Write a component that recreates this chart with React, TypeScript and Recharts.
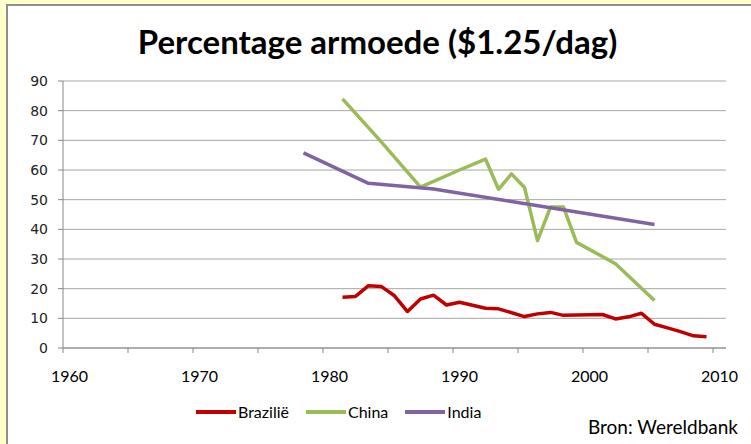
import React from 'react';
import { LineChart, Line, XAxis, YAxis, CartesianGrid, Legend } from 'recharts';

const brazilYears = [1981, 1982, 1983, 1984, 1985, 1986, 1987, 1988, 1989, 1990, 1992, 1993, 1995, 1996, 1997, 1998, 1999, 2001, 2002, 2003, 2004, 2005, 2006, 2007, 2008, 2009];
const brazilValues = [17.1, 17.4, 21.0, 20.7, 17.6, 12.3, 16.5, 17.8, 14.5, 15.4, 13.4, 13.2, 10.6, 11.5, 12.0, 11.0, 11.1, 11.3, 9.8, 10.5, 11.7, 8.0, 6.8, 5.5, 4.1, 3.8];

const chinaYears = [1981, 1984, 1987, 1990, 1992, 1993, 1994, 1995, 1996, 1997, 1998, 1999, 2002, 2005];
const chinaValues = [84.0, 69.4, 54.2, 60.0, 63.7, 53.5, 58.7, 54.1, 36.2, 47.5, 47.5, 35.6, 28.4, 16.0];

const indiaYears = [1978, 1983, 1988, 1994, 2005];
const indiaValues = [65.8, 55.5, 53.6, 49.4, 41.6];

const seriesNames = ['Brazilië', 'China', 'India'];
const seriesColors = ['#C00000', '#9BBB59', '#8064A2'];

const yTicks = [0, 10, 20, 30, 40, 50, 60, 70, 80, 90];
const xTickYears = [1960, 1965, 1970, 1975, 1980, 1985, 1990, 1995, 2000, 2005, 2010];
const xLabelYears = [1960, 1970, 1980, 1990, 2000, 2010];

const toPoints = (years: number[], values: number[]) =>
  years.map((year, i) => ({ year, value: values[i] }));

const brazilData = toPoints(brazilYears, brazilValues);
const chinaData = toPoints(chinaYears, chinaValues);
const indiaData = toPoints(indiaYears, indiaValues);

const FONT = "Lato, 'Open Sans', sans-serif";

const XTick = (props: any) => {
  const { x, y, payload } = props;
  const year = payload.value + 0.5;
  if (!xLabelYears.includes(year)) return <g />;
  return (
    <text x={x + 6.5} y={y} dy={27} textAnchor="middle" fill="#000" fontFamily={FONT} fontSize={16}>
      {year}
    </text>
  );
};

const LegendContent = () => (
  <div style={{ display: 'flex', alignItems: 'center', fontFamily: FONT, fontSize: 16, color: '#000', whiteSpace: 'nowrap' }}>
    {seriesNames.map((name, i) => (
      <div key={name} style={{ display: 'flex', alignItems: 'center', marginRight: 17 }}>
        <span style={{ display: 'inline-block', width: 40, height: 4, background: seriesColors[i], marginRight: 2 }} />
        <span>{name}</span>
      </div>
    ))}
  </div>
);

export default function App() {
  return (
    <div style={{ position: 'absolute', left: 0, top: 0, width: 751, height: 444, background: '#FFFFCC', overflow: 'hidden' }}>
      <div style={{ position: 'absolute', left: 6, top: 4, width: 760, height: 460, background: '#FFFFFF', borderLeft: '2px solid #8E8E8E', borderTop: '2px solid #8E8E8E' }} />
      <div style={{ position: 'absolute', left: 0, top: 21, width: 755, textAlign: 'center', fontFamily: FONT, fontWeight: 700, fontSize: 33, color: '#000', lineHeight: '40px' }}>
        Percentage armoede ($1.25/dag)
      </div>
      <div style={{ position: 'absolute', left: 0, top: 0 }}>
        <LineChart width={751} height={444} margin={{ top: 81, right: 25, bottom: 66, left: 0 }}>
          <CartesianGrid vertical={false} stroke="#A6A6A6" strokeWidth={1} />
          <XAxis
            dataKey="year"
            type="number"
            domain={[1959.5, 2010.5]}
            ticks={xTickYears.map((y) => y - 0.5)}
            allowDuplicatedCategory={false}
            height={30}
            stroke="#888888"
            tickSize={5}
            tick={<XTick />}
            interval={0}
          />
          <YAxis
            type="number"
            domain={[0, 90]}
            ticks={yTicks}
            width={63}
            stroke="#888888"
            tickSize={5}
            tickMargin={10}
            tick={{ fill: '#222', fontFamily: "'DejaVu Sans', sans-serif", fontSize: 14 }}
            interval={0}
          />
          <Legend
            verticalAlign="middle"
            align="center"
            layout="horizontal"
            content={<LegendContent />}
            wrapperStyle={{ position: 'absolute', left: 196, top: 402, width: 'auto' }}
          />
          <Line data={brazilData} dataKey="value" name={seriesNames[0]} stroke={seriesColors[0]} strokeWidth={3.5} dot={false} isAnimationActive={false} strokeLinejoin="round" />
          <Line data={chinaData} dataKey="value" name={seriesNames[1]} stroke={seriesColors[1]} strokeWidth={3.5} dot={false} isAnimationActive={false} strokeLinejoin="round" />
          <Line data={indiaData} dataKey="value" name={seriesNames[2]} stroke={seriesColors[2]} strokeWidth={3.5} dot={false} isAnimationActive={false} strokeLinejoin="round" />
        </LineChart>
      </div>
      <div style={{ position: 'absolute', left: 588, top: 415, fontFamily: FONT, fontSize: 19, color: '#000', whiteSpace: 'nowrap' }}>
        Bron: Wereldbank
      </div>
    </div>
  );
}
